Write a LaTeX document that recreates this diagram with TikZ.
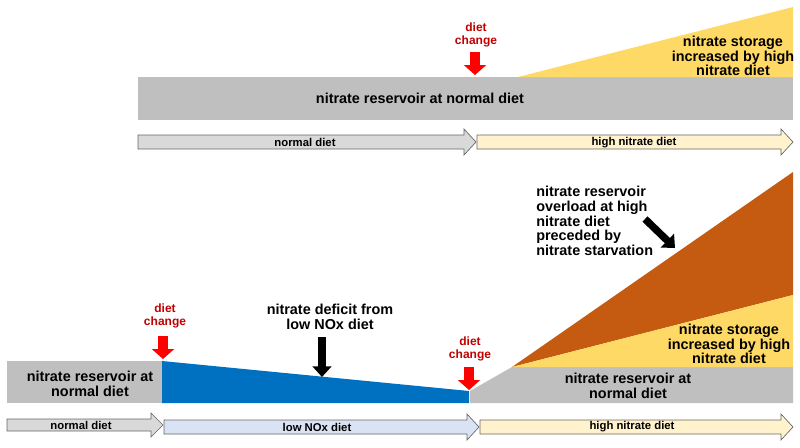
\documentclass[tikz,border=0pt]{standalone}
\usepackage{fontspec}
\setmainfont{Liberation Sans}
\usepackage{xcolor}
\usetikzlibrary{arrows.meta}
\definecolor{resgray}{HTML}{BFBFBF}
\definecolor{storeyellow}{HTML}{FFD966}
\definecolor{deficitblue}{HTML}{0070C0}
\definecolor{overloadorange}{HTML}{C55A11}
\definecolor{changered}{HTML}{C00000}
\definecolor{normalfill}{HTML}{D9D9D9}
\definecolor{lowfill}{HTML}{DAE3F3}
\definecolor{highfill}{HTML}{FFF2CC}

\begin{document}
\begin{tikzpicture}[x=0.75pt, y=-0.75pt,
  every node/.style={font=\bfseries\fontsize{10.8pt}{11pt}\selectfont, align=center, inner sep=0pt},
  dietbar/.style={draw=gray!80!black, line width=0.5pt},
  barlabel/.style={font=\bfseries\fontsize{8.5pt}{9pt}\selectfont},
  changelabel/.style={text=changered, font=\bfseries\fontsize{9pt}{9.8pt}\selectfont},
  redarrow/.style={red, line width=8pt, -{Triangle[length=7.5pt,width=16.5pt]}},
  blackarrow/.style={black, line width=5.5pt, -{Triangle[length=8pt,width=14pt]}}]
  \useasboundingbox (0,0) rectangle (800,447);
  % top panel
  \fill[resgray] (138,77) rectangle (793,120);
  \fill[storeyellow] (518,77) -- (793,7) -- (793,77) -- cycle;
  \node (resTop) at (420,98) {nitrate reservoir at normal diet};
  \node (storeTop) at (733,56) {nitrate storage\\increased by high\\nitrate diet};
  \node[changelabel] (changeTop) at (476,35) {diet\\change};
  \draw[redarrow] (475,52) -- (475,75);
  \draw[dietbar, fill=normalfill] (138,135) -- (464,135) -- (464,129) -- (476,142) -- (464,155) -- (464,149) -- (138,149) -- cycle;
  \node[barlabel] (normalTop) at (305,142) {normal diet};
  \draw[dietbar, fill=highfill] (477,135) -- (781,135) -- (781,129) -- (793,142) -- (781,155) -- (781,149) -- (477,149) -- cycle;
  \node[barlabel] (highTop) at (634,143) {high nitrate diet};
  % bottom panel
  \fill[resgray] (7,361) rectangle (162,403);
  \fill[deficitblue] (162,361) -- (469,391) -- (469,403) -- (162,403) -- cycle;
  \fill[resgray] (470,403) -- (470,391) -- (512,367) -- (793,367) -- (793,403) -- cycle;
  \fill[overloadorange] (512,367) -- (793,172) -- (793,295) -- cycle;
  \fill[storeyellow] (512,367) -- (793,295) -- (793,367) -- cycle;
  \node (resLeft) at (90,384) {nitrate reservoir at\\normal diet};
  \node (resRight) at (628,386) {nitrate reservoir at\\normal diet};
  \node (storeBottom) at (729,344) {nitrate storage\\increased by high\\nitrate diet};
  \node (deficit) at (330,317) {nitrate deficit from\\low NOx diet};
  \node[anchor=west, align=left] (overload) at (536,221) {nitrate reservoir\\overload at high\\nitrate diet\\preceded by\\nitrate starvation};
  \node[changelabel] (changeLeft) at (165,316) {diet\\change};
  \node[changelabel] (changeRight) at (470,349) {diet\\change};
  \draw[redarrow] (163,336) -- (163,359);
  \draw[redarrow] (469,367) -- (469,390);
  \draw[blackarrow] (322,337) -- (322,377);
  \draw[blackarrow] (645,219) -- (675,248);
  \draw[dietbar, fill=normalfill] (7,419) -- (151,419) -- (151,413) -- (163,425) -- (151,437) -- (151,431) -- (7,431) -- cycle;
  \node[barlabel] (normalBottom) at (81,425) {normal diet};
  \draw[dietbar, fill=lowfill] (164,420) -- (467,420) -- (467,414) -- (479,427) -- (467,440) -- (467,434) -- (164,434) -- cycle;
  \node[barlabel] (lowBottom) at (317,427) {low NOx diet};
  \draw[dietbar, fill=highfill] (480,420) -- (781,420) -- (781,414) -- (793,427) -- (781,440) -- (781,434) -- (480,434) -- cycle;
  \node[barlabel] (highBottom) at (632,427) {high nitrate diet};
\end{tikzpicture}
\end{document}
